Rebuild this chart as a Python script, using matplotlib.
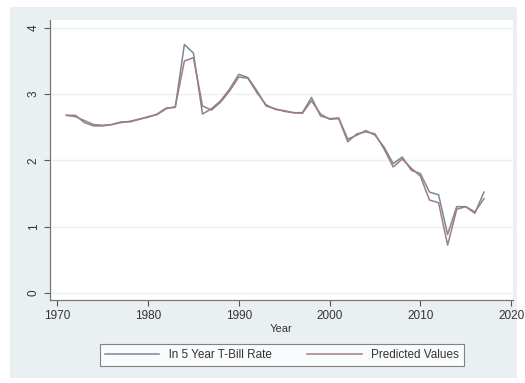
import matplotlib.pyplot as plt
from matplotlib.patches import Rectangle

# datos
years = list(range(1971, 2018))
ln_rate = [2.68, 2.68, 2.57, 2.52, 2.52, 2.54, 2.58, 2.58, 2.62, 2.65,
           2.70, 2.79, 2.80, 3.75, 3.62, 2.70, 2.78, 2.90, 3.08, 3.30,
           3.25, 3.05, 2.82, 2.78, 2.74, 2.72, 2.72, 2.95, 2.67, 2.63,
           2.64, 2.32, 2.38, 2.45, 2.38, 2.20, 1.95, 2.05, 1.85, 1.80,
           1.52, 1.48, 0.88, 1.30, 1.30, 1.20, 1.52]
predicted = [2.68, 2.66, 2.60, 2.54, 2.53, 2.54, 2.57, 2.59, 2.62, 2.66,
             2.69, 2.78, 2.81, 3.50, 3.55, 2.82, 2.76, 2.88, 3.05, 3.26,
             3.24, 3.02, 2.84, 2.77, 2.75, 2.72, 2.71, 2.90, 2.70, 2.62,
             2.63, 2.28, 2.40, 2.43, 2.40, 2.17, 1.90, 2.02, 1.88, 1.76,
             1.40, 1.36, 0.72, 1.26, 1.30, 1.22, 1.42]
yticks = [0, 1, 2, 3, 4]
xticks = [1970, 1980, 1990, 2000, 2010, 2020]

plt.rcParams['font.family'] = ['Liberation Sans', 'DejaVu Sans']

fig = plt.figure(figsize=(5.25, 3.83), dpi=100)
fig.patch.set_facecolor('white')
# fondo tipo stata
fig.patches.append(Rectangle((10/525, 1-378/383), 507/525, 371/383,
                             transform=fig.transFigure, facecolor='#eaf0f2',
                             edgecolor='none', zorder=-5))

ax = fig.add_axes([50/525, 1-300/383, 463/525, 280/383])
ax.set_facecolor('white')

ax.plot(years, ln_rate, color='#7a8898', lw=1.1, label='ln 5 Year T-Bill Rate')
ax.plot(years, predicted, color='#a07c80', lw=1.1, label='Predicted Values')

ax.set_xlim(1969.2, 2020.2)
ax.set_ylim(-0.11, 4.12)
ax.set_xticks(xticks)
ax.set_yticks(yticks)
ax.set_yticklabels([str(t) for t in yticks], rotation=90, va='center')
ax.tick_params(axis='both', labelsize=8.5, colors='#555555', labelcolor='#333333',
               length=4, width=0.8)
ax.grid(axis='y', color='#eaf0f2', lw=1.0)
ax.set_axisbelow(True)

for s in ['top', 'right']:
    ax.spines[s].set_visible(False)
for s in ['left', 'bottom']:
    ax.spines[s].set_color('#777777')
    ax.spines[s].set_linewidth(0.9)

ax.set_xlabel('Year', fontsize=8, color='#333333', labelpad=1)

leg = fig.legend(loc='center', bbox_to_anchor=(282/525, 1-355/383), ncol=2,
                 fontsize=8.5, frameon=True, fancybox=False, handlelength=4.6,
                 columnspacing=3.0, borderpad=0.4)
leg.get_frame().set_edgecolor('#666666')
leg.get_frame().set_linewidth(0.8)
for t in leg.get_texts():
    t.set_color('#333333')

fig.savefig('out.png', dpi=100)
